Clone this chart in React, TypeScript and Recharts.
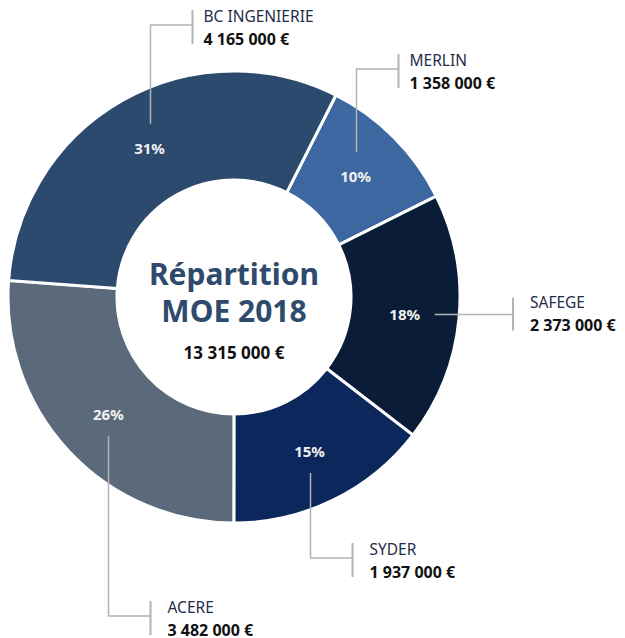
import React from "react";
import { PieChart, Pie, Cell } from "recharts";

const companies = ["MERLIN", "SAFEGE", "SYDER", "ACERE", "BC INGENIERIE"];
const amounts = [1358000, 2373000, 1937000, 3482000, 4165000];
const amountLabels = ["1 358 000 €", "2 373 000 €", "1 937 000 €", "3 482 000 €", "4 165 000 €"];
const titleLines = ["Répartition", "MOE 2018"];
const totalLabel = "13 315 000 €";

const colors = ["#3d67a0", "#0b1c38", "#0c275b", "#5a6a7a", "#2b4a6e"];
// leader-line layout (direction and elbow coordinate), style only
const leaderDir = ["up", "right", "down", "down", "up"];
const leaderElbow = [69, 513, 558, 616, 25];

const data = companies.map((name, i) => ({ name, value: amounts[i], amountLabel: amountLabels[i] }));

const FONT = "'Noto Sans', sans-serif";
const RAD = Math.PI / 180;
const LINE = "#b3b3b3";

const renderCenter = (cx: number, cy: number) => (
  <g>
    <text x={cx} y={cy - 24} textAnchor="middle" dominantBaseline="central" fill="#2e4a6c" fontFamily={FONT} fontSize={30} fontWeight={700}>
      {titleLines[0]}
    </text>
    <text x={cx} y={cy + 13} textAnchor="middle" dominantBaseline="central" fill="#2e4a6c" fontFamily={FONT} fontSize={30} fontWeight={700}>
      {titleLines[1]}
    </text>
    <text x={cx} y={cy + 55} textAnchor="middle" dominantBaseline="central" fill="#111111" fontFamily={FONT} fontSize={17} fontWeight={700}>
      {totalLabel}
    </text>
  </g>
);

const renderLabel = (props: any) => {
  const { cx, cy, midAngle, innerRadius, outerRadius, percent, index } = props;
  const r = (innerRadius + outerRadius) / 2;
  const px = cx + r * Math.cos(-midAngle * RAD);
  const py = cy + r * Math.sin(-midAngle * RAD);
  const dir = leaderDir[index];
  const elbow = leaderElbow[index];
  const d = data[index];
  let path = "";
  let bar = "";
  let tx = 0;
  let ty = 0;
  if (dir === "up" || dir === "down") {
    const x0 = Math.round(px) + 0.5;
    const y0 = dir === "up" ? py - 24 : py + 22;
    const bx = x0 + 42;
    path = `M${x0},${y0} L${x0},${elbow} L${bx},${elbow}`;
    bar = `M${bx},${elbow - 15} L${bx},${elbow + 19}`;
    tx = bx + (dir === "up" ? 11 : 17);
    ty = elbow;
  } else {
    const y0 = Math.round(py) + 0.5;
    const x0 = px + 30;
    path = `M${x0},${y0} L${elbow},${y0}`;
    bar = `M${elbow},${y0 - 17} L${elbow},${y0 + 16}`;
    tx = elbow + 17;
    ty = y0 - 4;
  }
  return (
    <g>
      {index === 0 ? renderCenter(cx, cy) : null}
      <text
        x={px}
        y={py}
        fill="#f2f2f2"
        fontFamily={FONT}
        fontSize={15}
        fontWeight={700}
        textAnchor="middle"
        dominantBaseline="central"
      >
        {Math.round(percent * 100)}%
      </text>
      <path d={path} stroke={LINE} strokeWidth={1.5} fill="none" />
      <path d={bar} stroke={LINE} strokeWidth={2} fill="none" />
      <text x={tx} y={ty - 9} fill="#1f2d4a" fontFamily={FONT} fontSize={15.5} dominantBaseline="central">
        {d.name}
      </text>
      <text x={tx} y={ty + 14} fill="#111111" fontFamily={FONT} fontSize={16} fontWeight={700} dominantBaseline="central">
        {d.amountLabel}
      </text>
    </g>
  );
};

export default function App() {
  return (
    <div style={{ position: "absolute", left: 0, top: 0, width: 625, height: 638, background: "#ffffff" }}>
      <PieChart width={625} height={638} margin={{ top: 0, right: 0, bottom: 0, left: 0 }}>
        <Pie
          data={data}
          dataKey="value"
          nameKey="name"
          cx={234}
          cy={297}
          innerRadius={117}
          outerRadius={226}
          startAngle={63.2}
          endAngle={-296.8}
          stroke="#ffffff"
          strokeWidth={3}
          label={renderLabel}
          labelLine={false}
          isAnimationActive={false}
        >
          {data.map((d, i) => (
            <Cell key={d.name} fill={colors[i]} />
          ))}
        </Pie>
      </PieChart>
    </div>
  );
}
